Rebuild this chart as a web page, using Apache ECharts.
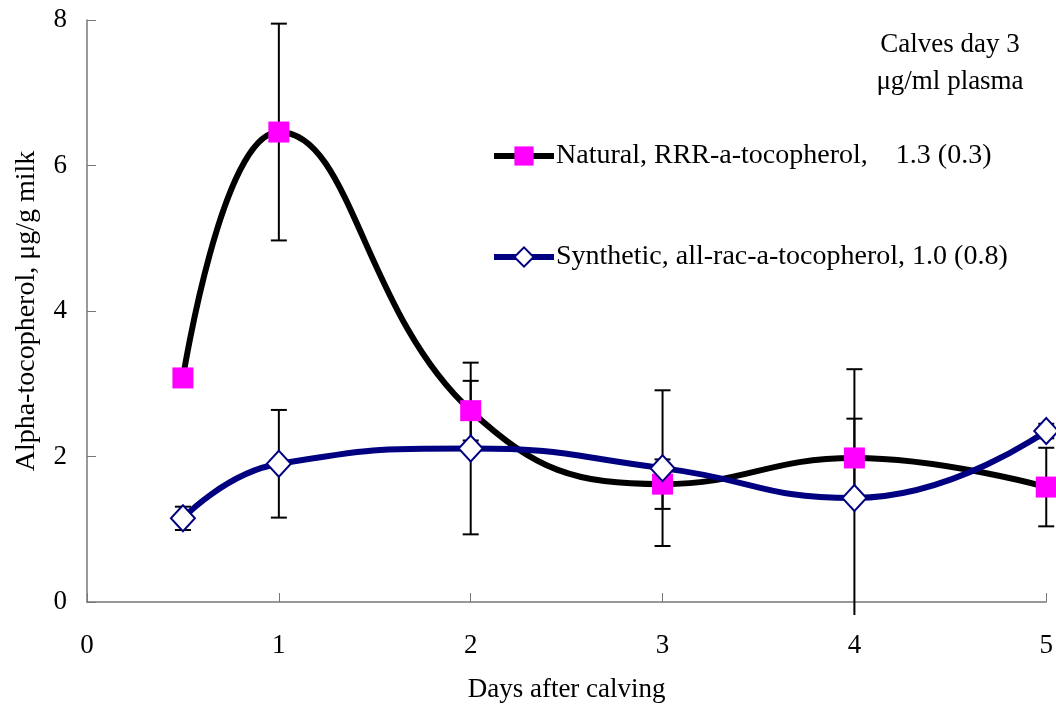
<!DOCTYPE html>
<html>
<head>
<meta charset="utf-8">
<script src="https://cdn.jsdelivr.net/npm/echarts@6/dist/echarts.min.js"></script>
<style>
  html, body { margin: 0; padding: 0; background: #fff; }
  #chart { width: 1056px; height: 711px; }
</style>
</head>
<body>
<div id="chart"></div>
<script>
// Alpha-tocopherol in milk over the first days after calving
const days = [0.5, 1, 2, 3, 4, 5];
const naturalValues = [3.08, 6.46, 2.63, 1.62, 1.98, 1.58];
const naturalErrors = [0.1, 1.49, 0.41, 0.34, 0.54, 0.54];
const syntheticValues = [1.15, 1.90, 2.11, 1.84, 1.43, 2.35];
const syntheticErrors = [0.16, 0.74, 1.18, 1.07, 1.77, 0.1];
const naturalName = 'Natural, RRR-a-tocopherol,    1.3 (0.3)';
const syntheticName = 'Synthetic, all-rac-a-tocopherol, 1.0 (0.8)';
const xTicks = [0, 1, 2, 3, 4, 5];
const yTicks = [0, 2, 4, 6, 8];

const FONT = '"Liberation Serif", "Times New Roman", serif';
const FS = 27;
const FS_LG = 28;

function errorRows(xs, ys, errs) {
  return xs.map((x, i) => [x, ys[i] - errs[i], ys[i] + errs[i]]);
}

// vertical whisker with caps; lower end may run a little under the axis
function renderErrorBar(params, api) {
  const x = api.value(0);
  const lo = api.coord([x, api.value(1)]);
  const hi = api.coord([x, api.value(2)]);
  const floorY = params.coordSys.y + params.coordSys.height + 13;
  const loY = Math.min(lo[1], floorY);
  const loCapped = lo[1] <= floorY;
  const cap = 8;
  const style = { stroke: '#000', lineWidth: 2 };
  const children = [
    { type: 'line', shape: { x1: hi[0], y1: hi[1], x2: hi[0], y2: loY }, style },
    { type: 'line', shape: { x1: hi[0] - cap, y1: hi[1], x2: hi[0] + cap, y2: hi[1] }, style }
  ];
  if (loCapped) {
    children.push({ type: 'line', shape: { x1: lo[0] - cap, y1: loY, x2: lo[0] + cap, y2: loY }, style });
  }
  return { type: 'group', children };
}

const chart = echarts.init(document.getElementById('chart'), null, { renderer: 'canvas' });

chart.setOption({
  animation: false,
  backgroundColor: '#fff',
  textStyle: { fontFamily: FONT },
  grid: { left: 87, right: 9, top: 20, bottom: 109, containLabel: false },
  title: {
    text: 'Calves day 3\nμg/ml plasma',
    left: 945,
    top: 21,
    textAlign: 'center',
    textStyle: { fontFamily: FONT, fontSize: FS, fontWeight: 'normal', color: '#000', lineHeight: 37 }
  },
  legend: {
    orient: 'vertical',
    left: 486,
    top: 137,
    itemGap: 73,
    itemWidth: 60,
    itemHeight: 24,
    data: [naturalName, syntheticName],
    lineStyle: { width: 6 },
    textStyle: { fontFamily: FONT, fontSize: FS_LG, color: '#000', padding: [0, 0, 0, -3] }
  },
  xAxis: {
    type: 'value',
    min: xTicks[0],
    max: xTicks[xTicks.length - 1],
    interval: 1,
    name: 'Days after calving',
    nameLocation: 'middle',
    nameGap: 74,
    nameTextStyle: { fontFamily: FONT, fontSize: FS, color: '#000' },
    axisLine: { lineStyle: { color: '#777', width: 1.5 } },
    axisTick: { inside: true, length: 9, lineStyle: { color: '#777' } },
    axisLabel: { fontFamily: FONT, fontSize: FS, color: '#000', margin: 30 },
    splitLine: { show: false }
  },
  yAxis: {
    type: 'value',
    min: yTicks[0],
    max: yTicks[yTicks.length - 1],
    interval: 2,
    name: 'Alpha-tocopherol, μg/g milk',
    nameLocation: 'middle',
    nameGap: 46,
    nameTextStyle: { fontFamily: FONT, fontSize: FS_LG, color: '#000' },
    axisLine: { show: true, lineStyle: { color: '#777', width: 1.5 } },
    axisTick: { show: true, inside: true, length: 9, lineStyle: { color: '#777' } },
    axisLabel: { fontFamily: FONT, fontSize: FS, color: '#000', margin: 20 },
    splitLine: { show: false }
  },
  series: [
    {
      name: 'natural-err',
      type: 'custom',
      z: 1,
      clip: false,
      renderItem: renderErrorBar,
      encode: { x: 0, y: [1, 2] },
      data: errorRows(days, naturalValues, naturalErrors)
    },
    {
      name: 'synthetic-err',
      type: 'custom',
      z: 1,
      clip: false,
      renderItem: renderErrorBar,
      encode: { x: 0, y: [1, 2] },
      data: errorRows(days, syntheticValues, syntheticErrors)
    },
    {
      name: naturalName,
      type: 'line',
      z: 2,
      smooth: 0.45,
      data: days.map((d, i) => [d, naturalValues[i]]),
      lineStyle: { color: '#000', width: 6 },
      symbol: 'rect',
      symbolSize: 21,
      showAllSymbol: true,
      itemStyle: { color: '#ff00ff', borderWidth: 0 }
    },
    {
      name: syntheticName,
      type: 'line',
      z: 3,
      smooth: 0.5,
      data: days.map((d, i) => [d, syntheticValues[i]]),
      lineStyle: { color: '#000080', width: 6 },
      symbol: 'diamond',
      symbolSize: [24, 26],
      showAllSymbol: true,
      itemStyle: { color: '#fff', borderColor: '#000080', borderWidth: 2 }
    }
  ]
});
</script>
</body>
</html>
